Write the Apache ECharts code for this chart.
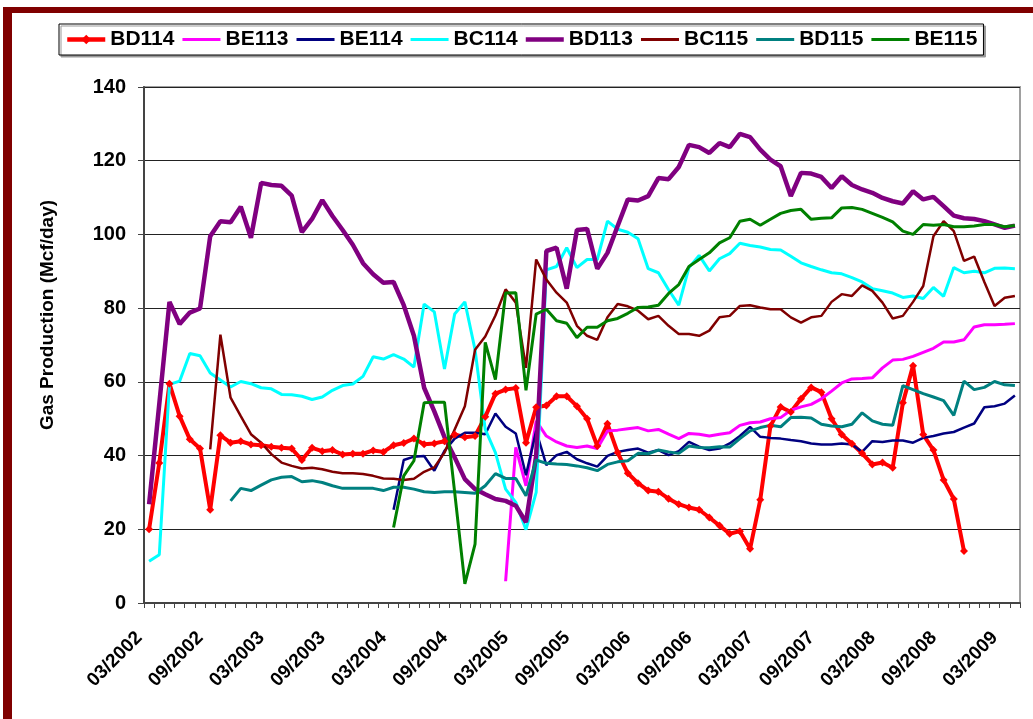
<!DOCTYPE html>
<html>
<head>
<meta charset="utf-8">
<title>Gas Production</title>
<script src="https://cdn.jsdelivr.net/npm/echarts@6/dist/echarts.min.js"></script>
<style>
  html, body { margin: 0; padding: 0; background: #fff; }
  #main { width: 1033px; height: 719px; }
  #frame {
    position: absolute; left: 3px; top: 7px; width: 1040px; height: 710px;
    border-top: 6px solid #800000; border-left: 9px solid #800000; border-bottom: 2px solid #800000;
    pointer-events: none;
  }
</style>
</head>
<body>
<div id="main"></div>
<div id="frame"></div>
<script>
// monthly categories, 03/2002 .. 04/2009
var months = [
  '03/2002','04/2002','05/2002','06/2002','07/2002','08/2002','09/2002','10/2002','11/2002','12/2002',
  '01/2003','02/2003','03/2003','04/2003','05/2003','06/2003','07/2003','08/2003','09/2003','10/2003','11/2003','12/2003',
  '01/2004','02/2004','03/2004','04/2004','05/2004','06/2004','07/2004','08/2004','09/2004','10/2004','11/2004','12/2004',
  '01/2005','02/2005','03/2005','04/2005','05/2005','06/2005','07/2005','08/2005','09/2005','10/2005','11/2005','12/2005',
  '01/2006','02/2006','03/2006','04/2006','05/2006','06/2006','07/2006','08/2006','09/2006','10/2006','11/2006','12/2006',
  '01/2007','02/2007','03/2007','04/2007','05/2007','06/2007','07/2007','08/2007','09/2007','10/2007','11/2007','12/2007',
  '01/2008','02/2008','03/2008','04/2008','05/2008','06/2008','07/2008','08/2008','09/2008','10/2008','11/2008','12/2008',
  '01/2009','02/2009','03/2009','04/2009'
];

var bd114 = [20,38,59.5,50.7,44.4,41.9,25.3,45.5,43.5,43.9,43,42.8,42.4,42.1,41.9,38.8,42.1,41.2,41.5,40.3,
  40.5,40.5,41.4,41,42.8,43.4,44.6,43.1,43.3,43.9,45.7,45,45.3,50.5,56.8,57.9,58.3,43.5,53.1,53.6,
  56.1,56.1,53.4,50,42.6,48.6,40.8,35.2,32.5,30.5,30.2,28.3,26.8,25.9,25.3,23.2,21,18.8,19.5,14.7,
  28,48,53.2,51.8,55.4,58.5,57.2,50,45.7,43.2,40.6,37.6,38.1,36.7,54.3,64.4,45.7,41.5,33.4,28.2,
  14.1,null,null,null,null,null];

var be113 = [null,null,null,null,null,null,null,null,null,null,null,null,null,null,null,null,null,null,null,null,
  null,null,null,null,null,null,null,null,null,null,null,null,null,null,null,5.9,42.2,31.8,49.4,45.3,
  43.7,42.6,42.2,42.6,41.9,46.7,46.9,47.3,47.6,46.7,47.1,45.8,44.6,46,45.8,45.3,45.8,46.2,48.2,48.9,
  49.1,50,50.3,52.3,53.2,53.9,55.4,57.5,59.7,60.8,60.9,61.1,63.8,65.9,66.1,66.9,68,69.1,70.8,70.8,
  71.4,74.9,75.5,75.5,75.6,75.8];

var be114 = [null,null,null,null,null,null,null,null,null,null,null,null,null,null,null,null,null,null,null,null,
  null,null,null,null,25.3,38.8,39.7,39.9,35.9,41.3,44.6,46.2,46.2,45.8,51.4,47.8,46,34.7,46.7,37.4,
  40.1,41,39,37.9,37,39.9,41,41.5,41.9,40.8,41.5,40.1,41.2,43.7,42.4,41.5,41.9,43.3,45.3,47.8,
  45.1,44.8,44.6,44.2,43.9,43.3,43,43,43.3,43,41,43.9,43.7,44.1,44.1,43.5,44.8,45.3,46,46.4,
  47.6,48.7,53.1,53.4,54.1,56.3];

var bc114 = [11.3,13.1,59.3,60.2,67.7,67.1,62.4,60.5,58.6,60.1,59.5,58.4,58.1,56.6,56.5,56.1,55.2,55.9,57.7,59,
  59.4,61.5,66.8,66.2,67.4,66.2,64,81.1,79,63.5,78.4,81.7,68.7,47.1,40.8,30.9,27.3,19.9,30,90.4,
  91.3,96.4,91,93.2,93.2,103.6,101.4,100.6,98.8,90.7,89.6,85,80.8,91,94.3,90.1,93.4,94.8,97.6,97,
  96.6,95.9,95.8,94.1,92.3,91.3,90.4,89.6,89.3,88.3,87.1,85.3,84.7,84.1,82.9,83.3,82.6,85.6,83.2,91,
  89.6,90,89.6,90.8,90.9,90.7];

var bd113 = [26.8,54,81.7,75.7,78.8,79.9,99.5,103.6,103.3,107.5,99.1,114,113.4,113.2,110.5,100.6,104.2,109.3,105,101.2,
  97.2,92.2,89.2,86.9,87.1,80.8,72.5,58.4,52,45,39.5,33.6,30.9,29.5,28.2,27.7,26.4,21.9,40,95.5,
  96.4,85.3,101.2,101.5,90.7,95,102.3,109.5,109.2,110.4,115.3,115,118.3,124.3,123.7,122.1,124.8,123.7,127.3,126.4,
  123,120.3,118.5,110.4,116.7,116.5,115.6,112.6,115.8,113.4,112.2,111.3,109.9,109,108.4,111.7,109.5,110.2,107.7,105.1,
  104.4,104.2,103.6,102.7,101.8,102.4];

var bc115 = [null,null,null,null,null,null,41.7,72.8,55.7,50.7,45.8,43.5,40.4,38.1,37.2,36.5,36.7,36.3,35.6,35.2,
  35.2,35,34.5,33.8,33.7,33.4,33.7,35.6,36.8,40.8,47.1,53.4,68.7,72.3,78,85.1,81.5,63.8,93.2,87.8,
  84.2,81.5,75.2,72.5,71.4,77.5,81.1,80.5,79.3,77,77.9,75.2,73,73,72.5,73.9,77.5,77.9,80.6,80.8,
  80.2,79.7,79.7,77.5,76.1,77.5,77.9,81.7,83.8,83.3,86.2,84.7,81.5,77.2,77.9,81.7,86,99.5,103.6,100.9,
  92.8,94,87.1,80.6,82.8,83.3];

var bd115 = [null,null,null,null,null,null,null,null,27.7,31.1,30.5,32,33.4,34.1,34.3,32.9,33.2,32.7,31.8,31.1,
  31.1,31.1,31.1,30.5,31.4,31.4,30.9,30.2,30,30.2,30.2,30,29.8,31.8,35.1,33.8,33.8,29.1,38.8,37.9,
  37.7,37.6,37.2,36.7,35.9,37.6,38.3,38.6,40.6,40.5,41.5,41,40.6,42.6,42.2,42.1,42.4,42.3,44.6,46.7,
  47.6,48.2,47.8,50.3,50.4,50.2,48.5,48,47.8,48.5,51.6,49.4,48.5,48.2,59,57.9,56.8,55.9,54.9,50.9,
  60.2,57.9,58.5,60.1,59.2,59];

var be115 = [null,null,null,null,null,null,null,null,null,null,null,null,null,null,null,null,null,null,null,null,
  null,null,null,null,20.5,34.5,38.6,54.3,54.5,54.5,30,5.2,16,70.7,60.6,84.1,84.2,57.7,78.4,79.7,
  76.6,75.9,72,74.8,74.8,76.6,77.2,78.6,80.2,80.3,80.8,84,86.4,91.3,93.2,95,97.7,99.1,103.6,104.1,
  102.5,104.1,105.7,106.5,106.8,104.1,104.4,104.5,107.2,107.3,106.8,105.7,104.6,103.4,100.9,100,102.7,102.5,102.7,102.1,
  102.1,102.3,102.7,102.7,102.1,102.4];

var yTicks = [0, 20, 40, 60, 80, 100, 120, 140];

var chart = echarts.init(document.getElementById('main'));
var font = 'Arial, "Liberation Sans", sans-serif';

// legend icon: a plain bar across the middle of a 38x12 box
function barIcon(h) {
  var y0 = (12 - h) / 2, y1 = y0 + h;
  return 'path://M0,0L0.01,0M0,' + y0 + 'L38,' + y0 + 'L38,' + y1 + 'L0,' + y1 + 'ZM38,12L37.99,12';
}

function line(name, data, color, width) {
  return {
    name: name,
    type: 'line',
    data: data,
    symbol: 'none',
    connectNulls: false,
    lineStyle: { color: color, width: width },
    itemStyle: { color: color },
    emphasis: { disabled: true }
  };
}

var red = line('BD114', bd114, '#ff0000', 4);
red.symbol = 'diamond';
red.symbolSize = 8;
red.showSymbol = true;
red.showAllSymbol = true;

chart.setOption({
  animation: false,
  backgroundColor: '#fff',
  textStyle: { fontFamily: font },
  legend: {
    left: 59,
    top: 24,
    padding: [5, 6],
    itemGap: 8,
    itemWidth: 38,
    itemHeight: 12,
    backgroundColor: '#fff',
    borderColor: '#000',
    borderWidth: 1,
    shadowColor: '#999',
    shadowOffsetX: 2,
    shadowOffsetY: 2,
    data: [
      { name: 'BD114', lineStyle: { width: 4.5 } },
      { name: 'BE113', icon: barIcon(3) },
      { name: 'BE114', icon: barIcon(3) },
      { name: 'BC114', icon: barIcon(3) },
      { name: 'BD113', icon: barIcon(4.5) },
      { name: 'BC115', icon: barIcon(3) },
      { name: 'BD115', icon: barIcon(3) },
      { name: 'BE115', icon: barIcon(3) }
    ],
    textStyle: { fontSize: 21, fontWeight: 'bold', color: '#000', fontFamily: font }
  },
  grid: {
    left: 144, right: 13, top: 87, bottom: 116,
    show: true, borderColor: '#a0a0a0', borderWidth: 2
  },
  xAxis: {
    type: 'category',
    data: months,
    boundaryGap: true,
    axisLine: { lineStyle: { color: '#444', width: 2 } },
    axisTick: { show: true, interval: 0, length: 5, lineStyle: { color: '#444' } },
    axisLabel: {
      interval: 5, rotate: 45, margin: 22, padding: [0, 14, 0, 0],
      fontSize: 19, fontWeight: 'bold', color: '#000', fontFamily: font
    },
    splitLine: { show: false }
  },
  yAxis: {
    type: 'value',
    min: yTicks[0],
    max: yTicks[yTicks.length - 1],
    interval: 20,
    axisLine: { show: true, lineStyle: { color: '#444', width: 2 } },
    axisTick: { show: true, length: 6, lineStyle: { color: '#444' } },
    axisLabel: { margin: 18, fontSize: 20, fontWeight: 'bold', color: '#000', fontFamily: font },
    splitLine: { lineStyle: { color: '#222', width: 1 } }
  },
  graphic: [{
    type: 'text',
    x: 48, y: 315,
    rotation: Math.PI / 2,
    style: {
      text: 'Gas Production (Mcf/day)',
      fontSize: 19, fontWeight: 'bold', fontFamily: font, fill: '#000',
      align: 'center', verticalAlign: 'middle'
    }
  }],
  series: [
    red,
    line('BE113', be113, '#ff00ff', 3),
    line('BE114', be114, '#000080', 2.5),
    line('BC114', bc114, '#00ffff', 3),
    line('BD113', bd113, '#800080', 4.5),
    line('BC115', bc115, '#800000', 2.5),
    line('BD115', bd115, '#008080', 3),
    line('BE115', be115, '#008000', 3)
  ]
});
</script>
</body>
</html>
